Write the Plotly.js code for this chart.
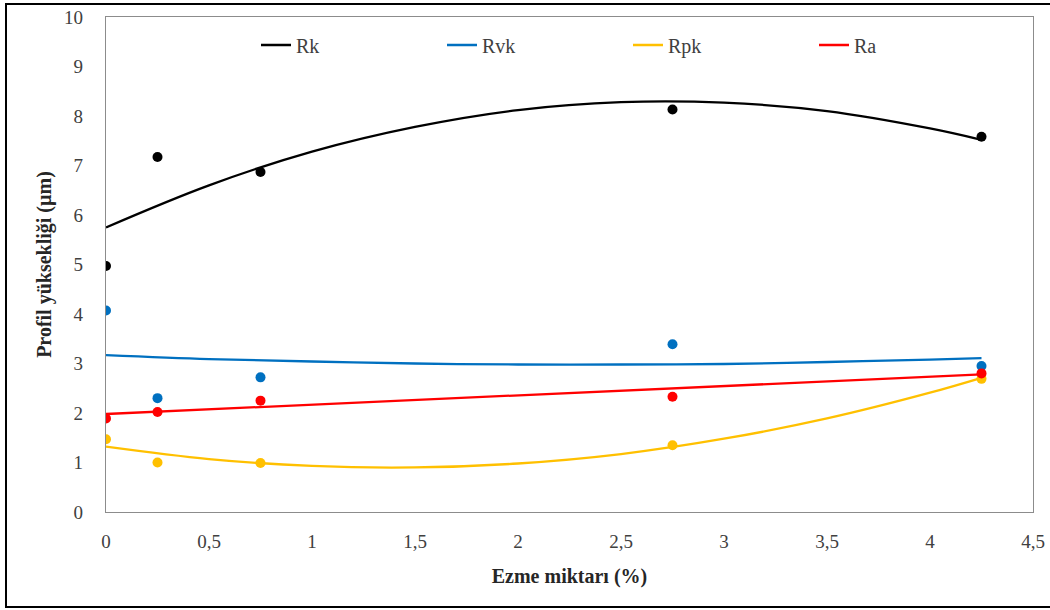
<!DOCTYPE html>
<html>
<head>
<meta charset="utf-8">
<script src="https://cdn.plot.ly/plotly-3.0.1.min.js"></script>
<style>
  html, body { margin: 0; padding: 0; background: #ffffff; }
  #chart { width: 1050px; height: 610px; }
</style>
</head>
<body>
<div id="chart"></div>
<script>
// Measured points (x: Ezme miktarı %, y: µm)
var xPoints = [0, 0.25, 0.75, 2.75, 4.25];
var rkPoints  = [4.97, 7.17, 6.87, 8.13, 7.58];
var rvkPoints = [4.07, 2.30, 2.72, 3.39, 2.95];
var rpkPoints = [1.47, 1.00, 0.99, 1.35, 2.69];
var raPoints  = [1.89, 2.02, 2.25, 2.33, 2.80];

// Trend lines
var trendX   = [0, 0.5, 1, 1.5, 2, 2.5, 3, 3.5, 4, 4.25];
var rkTrend  = [5.75, 6.60, 7.28, 7.78, 8.12, 8.28, 8.27, 8.10, 7.75, 7.52];
var rvkTrend = [3.17, 3.09, 3.04, 3.00, 2.98, 2.98, 2.99, 3.03, 3.08, 3.11];
var rpkTrend = [1.32, 1.07, 0.93, 0.90, 0.98, 1.17, 1.48, 1.89, 2.41, 2.71];
var raTrendX = [0, 4.25];
var raTrend  = [1.98, 2.78];

var seriesNames = ['Rk', 'Rvk', 'Rpk', 'Ra'];
var seriesColors = ['#000000', '#0070C0', '#FFC000', '#FF0000'];

var xTickVals = [0, 0.5, 1, 1.5, 2, 2.5, 3, 3.5, 4, 4.5];
var yTickVals = [0, 1, 2, 3, 4, 5, 6, 7, 8, 9, 10];

var pointSets = [rkPoints, rvkPoints, rpkPoints, raPoints];
var trendSets = [[trendX, rkTrend], [trendX, rvkTrend], [trendX, rpkTrend], [raTrendX, raTrend]];

var traces = [];
for (var i = 0; i < 4; i++) {
  traces.push({
    x: trendSets[i][0], y: trendSets[i][1],
    type: 'scatter', mode: 'lines', name: seriesNames[i],
    line: {color: seriesColors[i], width: 2.3, shape: 'spline', smoothing: 1},
    hoverinfo: 'skip'
  });
}
for (var j = 0; j < 4; j++) {
  traces.push({
    x: xPoints, y: pointSets[j],
    type: 'scatter', mode: 'markers', name: seriesNames[j] + ' ölçüm',
    showlegend: false,
    marker: {color: seriesColors[j], size: 10}
  });
}

var L = 106, R = 17, T = 17, B = 98;
var W = 1050 - L - R, H = 610 - T - B;
function px2x(p) { return (p - L) / W; }
function py2y(p) { return (610 - B - p) / H; }

var font = 'Liberation Serif, Times New Roman, serif';

var layout = {
  width: 1050, height: 610,
  margin: {l: L, r: R, t: T, b: B},
  paper_bgcolor: '#ffffff', plot_bgcolor: '#ffffff',
  separators: ',.',
  font: {family: font, size: 19, color: '#404040'},
  showlegend: true,
  legend: {
    orientation: 'h',
    x: px2x(256), xanchor: 'left',
    y: py2y(45), yanchor: 'middle',
    bgcolor: 'rgba(0,0,0,0)',
    font: {family: font, size: 20, color: '#404040'},
    entrywidth: 141, entrywidthmode: 'pixels',
    traceorder: 'normal'
  },
  xaxis: {
    range: [0, 4.5],
    tickvals: xTickVals,
    showgrid: false, zeroline: false,
    showline: true, linecolor: '#8c8c8c', linewidth: 1.3, mirror: true,
    ticks: '', ticklabelstandoff: 12,
    tickfont: {family: font, size: 19, color: '#404040'},
    title: {text: '<b>Ezme miktarı (%)</b>', font: {family: font, size: 20, color: '#262626'}, standoff: 18}
  },
  yaxis: {
    range: [0, 10],
    tickvals: yTickVals,
    showgrid: false, zeroline: false,
    showline: true, linecolor: '#8c8c8c', linewidth: 1.3, mirror: true,
    ticks: '', ticklabelstandoff: 18,
    tickfont: {family: font, size: 19, color: '#404040'},
    title: {text: '<b>Profil yüksekliği (µm)</b>', font: {family: font, size: 20, color: '#262626'}, standoff: 7}
  },
  shapes: [{
    type: 'rect', xref: 'paper', yref: 'paper', layer: 'below',
    x0: px2x(6), x1: px2x(1056), y0: py2y(607), y1: py2y(4),
    line: {color: '#000000', width: 2}, fillcolor: 'rgba(0,0,0,0)'
  }]
};

Plotly.newPlot('chart', traces, layout, {displayModeBar: false, staticPlot: true});
</script>
</body>
</html>
